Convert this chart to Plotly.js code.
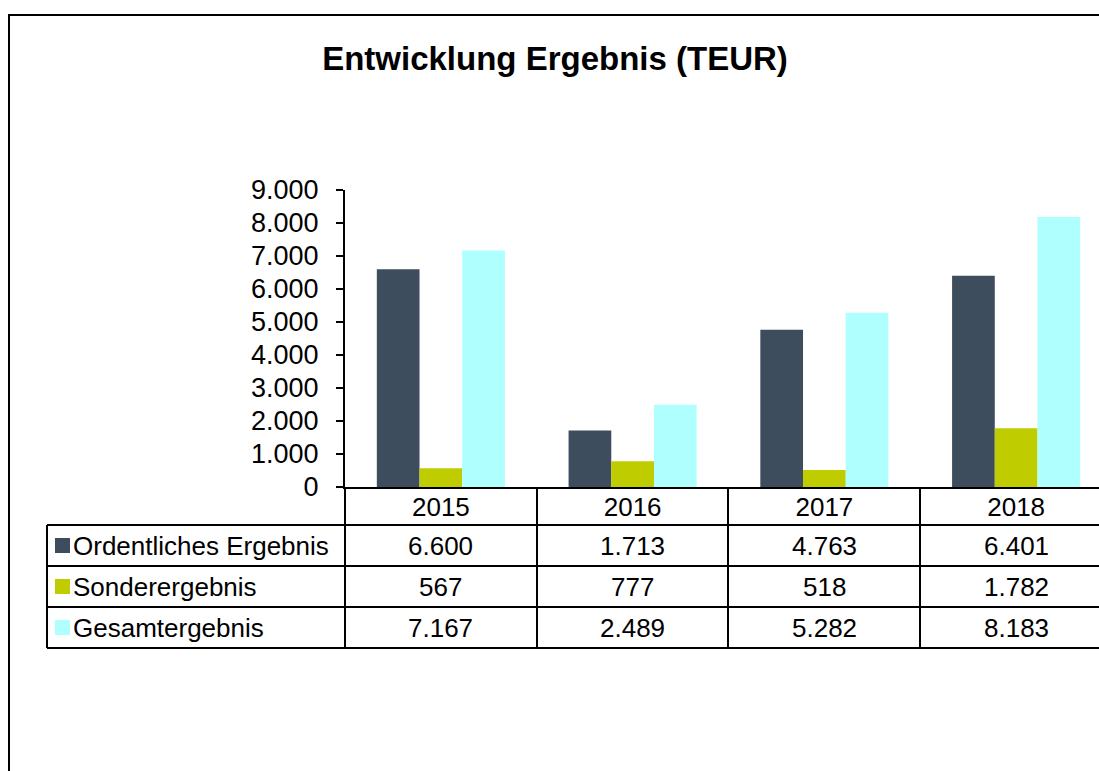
<!DOCTYPE html>
<html>
<head>
<meta charset="utf-8">
<script src="https://cdn.plot.ly/plotly-3.0.1.min.js"></script>
<style>
  html, body { margin: 0; padding: 0; background: #fff; overflow: hidden; }
  #graph { width: 1140px; height: 771px; }
</style>
</head>
<body>
<div id="graph"></div>
<script>
const years = ["2015", "2016", "2017", "2018"];
const seriesNames = ["Ordentliches Ergebnis", "Sonderergebnis", "Gesamtergebnis"];
const ordentlich = [6600, 1713, 4763, 6401];
const sonder = [567, 777, 518, 1782];
const gesamt = [7167, 2489, 5282, 8183];
const seriesValues = [ordentlich, sonder, gesamt];
const colors = ["#3d4d5d", "#bfcc00", "#b0ffff"];

const fontFamily = "Liberation Sans, Arial, sans-serif";

// plot area in pixels, the rest of the table is placed around it
const plotL = 345, plotR = 1112, plotT = 190, plotB = 487;
const W = 1140, H = 771;
function px(x) { return (x - plotL) / (plotR - plotL); }
function py(y) { return (plotB - y) / (plotB - plotT); }

function fmt(v) {
  return String(v).replace(/\B(?=(\d{3})+(?!\d))/g, ".");
}

let data = seriesValues.map((vals, i) => ({
  type: "bar",
  name: seriesNames[i],
  x: years,
  y: vals,
  marker: { color: colors[i], line: { width: 0 } },
  hoverinfo: "y",
}));

// table grid
const rowLines = [525, 566, 607, 648];
const colLines = [537, 728, 920];
let shapes = [];
let line = { color: "#000", width: 2 };

// outer chart border
shapes.push({ type: "rect", xref: "paper", yref: "paper", x0: px(9), x1: px(1200), y0: py(15), y1: py(900), line: line });

rowLines.forEach((y) => {
  shapes.push({ type: "line", xref: "paper", yref: "paper", x0: px(47), x1: px(1200), y0: py(y), y1: py(y), line: line });
});
shapes.push({ type: "line", xref: "paper", yref: "paper", x0: px(47), x1: px(47), y0: py(525), y1: py(648), line: line });
shapes.push({ type: "line", xref: "paper", yref: "paper", x0: px(plotL), x1: px(plotL), y0: py(plotB), y1: py(648), line: line });
colLines.forEach((x) => {
  shapes.push({ type: "line", xref: "paper", yref: "paper", x0: px(x), x1: px(x), y0: py(plotB), y1: py(648), line: line });
});

let annotations = [];
const rowCenters = [545.5, 586.5, 627.5];
seriesNames.forEach((name, i) => {
  let yc = rowCenters[i];
  shapes.push({
    type: "rect", xref: "paper", yref: "paper",
    x0: px(55), x1: px(70), y0: py(yc - 7.5), y1: py(yc + 7.5),
    fillcolor: colors[i], line: { width: 0 },
  });
  annotations.push({
    xref: "paper", yref: "paper", x: px(71), y: py(yc),
    xanchor: "left", yanchor: "middle", showarrow: false,
    text: name, font: { family: fontFamily, size: 26, color: "#000" },
  });
  seriesValues[i].forEach((v, j) => {
    // category index j on the x axis
    annotations.push({
      xref: "x", yref: "paper", x: j, y: py(yc),
      xanchor: "center", yanchor: "middle", showarrow: false,
      text: fmt(v), font: { family: fontFamily, size: 26, color: "#000" },
    });
  });
});

let layout = {
  width: W,
  height: H,
  paper_bgcolor: "#fff",
  plot_bgcolor: "#fff",
  separators: ",.",
  showlegend: false,
  barmode: "group",
  bargap: 0.332,
  bargroupgap: 0,
  margin: { l: plotL, r: W - plotR, t: plotT, b: H - plotB, pad: 0 },
  title: {
    text: "<b>Entwicklung Ergebnis (TEUR)</b>",
    xref: "container", yref: "container",
    x: 555 / W, y: 1 - 58 / H,
    xanchor: "center", yanchor: "middle",
    font: { family: fontFamily, size: 33, color: "#000" },
  },
  xaxis: {
    type: "category",
    range: [-0.5, 3.5],
    showline: true,
    linecolor: "#000",
    linewidth: 2,
    ticks: "",
    showgrid: false,
    zeroline: false,
    tickfont: { family: fontFamily, size: 26, color: "#000" },
    ticklabelstandoff: -4,
  },
  yaxis: {
    range: [0, 9000],
    dtick: 1000,
    tickformat: ",d",
    showline: true,
    linecolor: "#000",
    linewidth: 2,
    ticks: "outside",
    ticklen: 7,
    tickwidth: 2,
    tickcolor: "#000",
    showgrid: false,
    zeroline: false,
    tickfont: { family: fontFamily, size: 27, color: "#000" },
    ticklabelstandoff: 12,
  },
  shapes: shapes,
  annotations: annotations,
};

Plotly.newPlot("graph", data, layout, { displayModeBar: false, staticPlot: true });
</script>
</body>
</html>
